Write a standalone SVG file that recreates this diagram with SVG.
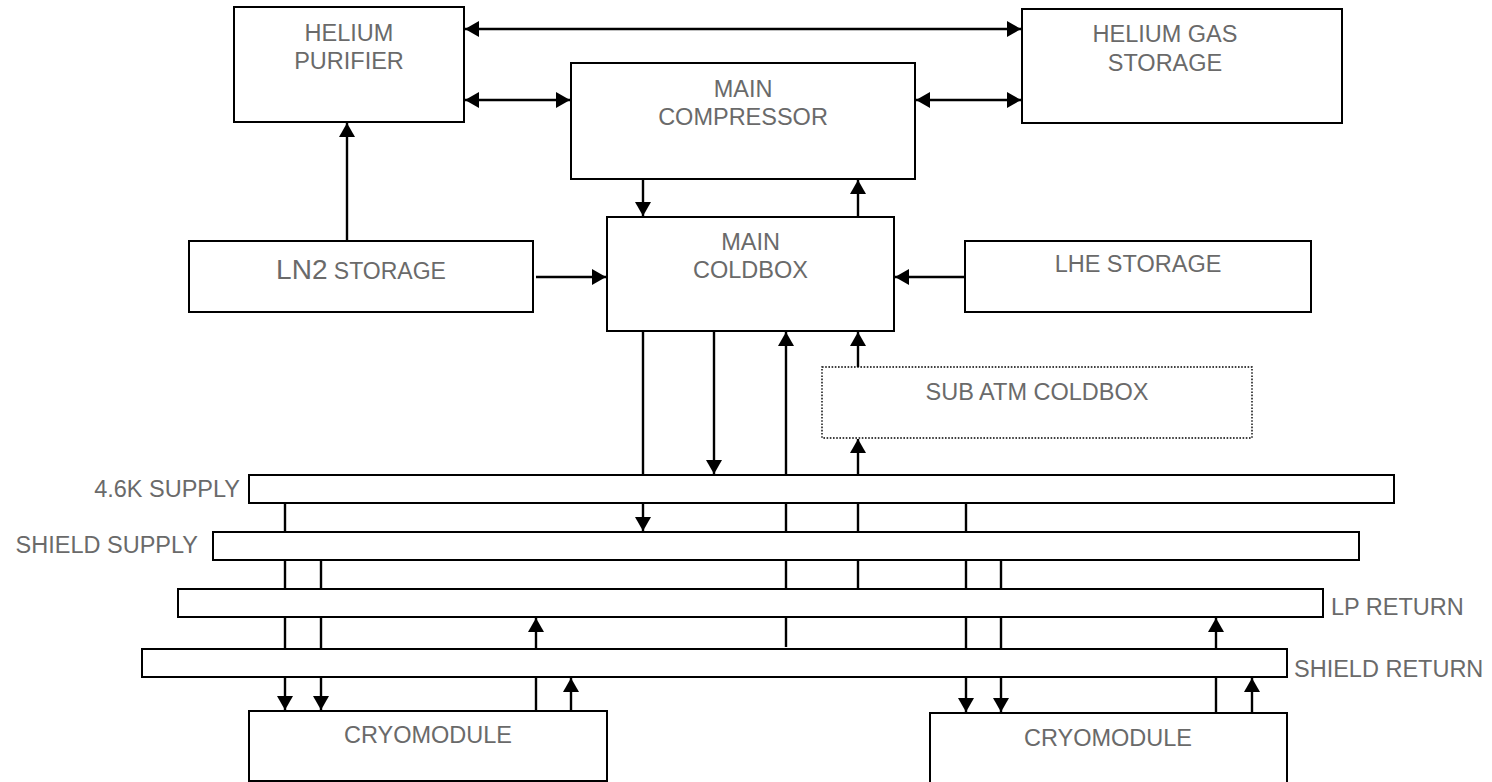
<svg xmlns="http://www.w3.org/2000/svg" width="1492" height="782" viewBox="0 0 1492 782">
<style>
.box{fill:#fff;stroke:#000;stroke-width:2}
.dot{fill:#fff;stroke:#000;stroke-width:1.4;stroke-dasharray:1.6 1.6}
.t{font-family:"Liberation Sans",Arial,sans-serif;font-size:23.5px;fill:#6a6a6a}
.c{text-anchor:middle}
.r{text-anchor:end}
.ln{fill:none;stroke:#000;stroke-width:2.4}
.a{marker-end:url(#ah)}
.aa{marker-end:url(#ah);marker-start:url(#ah)}
</style>
<defs>
<marker id="ah" viewBox="0 0 14 16" refX="14" refY="8" markerWidth="14" markerHeight="16" markerUnits="userSpaceOnUse" orient="auto-start-reverse">
<path d="M0,0 L14,8 L0,16 z" fill="#000"/>
</marker>
</defs>
<rect width="1492" height="782" fill="#fff"/>
<g id="connectors">
<line class="ln aa" x1="465" y1="29" x2="1021" y2="29"/>
<line class="ln aa" x1="465" y1="100" x2="570" y2="100"/>
<line class="ln aa" x1="916" y1="100" x2="1021" y2="100"/>
<line class="ln a" x1="347" y1="241" x2="347" y2="123"/>
<line class="ln a" x1="643" y1="179" x2="643" y2="216"/>
<line class="ln a" x1="858" y1="217" x2="858" y2="180"/>
<line class="ln a" x1="536" y1="277" x2="606" y2="277"/>
<line class="ln a" x1="965" y1="277" x2="895" y2="277"/>
<line class="ln a" x1="643" y1="331" x2="643" y2="531"/>
<line class="ln a" x1="714" y1="331" x2="714" y2="474"/>
<line class="ln a" x1="786" y1="647" x2="786" y2="332"/>
<line class="ln a" x1="858" y1="367" x2="858" y2="332"/>
<line class="ln a" x1="858" y1="589" x2="858" y2="439"/>
<line class="ln a" x1="285" y1="503" x2="285" y2="710"/>
<line class="ln a" x1="321" y1="560" x2="321" y2="710"/>
<line class="ln a" x1="536" y1="711" x2="536" y2="618"/>
<line class="ln a" x1="571" y1="711" x2="571" y2="678"/>
<line class="ln a" x1="966" y1="503" x2="966" y2="712"/>
<line class="ln a" x1="1001" y1="560" x2="1001" y2="712"/>
<line class="ln a" x1="1216" y1="713" x2="1216" y2="618"/>
<line class="ln a" x1="1252" y1="713" x2="1252" y2="678"/>
</g>
<g id="helium-purifier">
<rect class="box" x="234" y="7" width="230" height="115"/>
<text class="t c" x="349" y="41">HELIUM</text>
<text class="t c" x="349" y="69">PURIFIER</text>
</g>
<g id="helium-gas-storage">
<rect class="box" x="1022" y="9" width="320" height="114"/>
<text class="t c" x="1165" y="42">HELIUM GAS</text>
<text class="t c" x="1165" y="71">STORAGE</text>
</g>
<g id="main-compressor">
<rect class="box" x="571" y="63" width="344" height="116"/>
<text class="t c" x="743" y="97">MAIN</text>
<text class="t c" x="743" y="125">COMPRESSOR</text>
</g>
<g id="main-coldbox">
<rect class="box" x="607" y="217" width="287" height="114"/>
<text class="t c" x="750.5" y="250">MAIN</text>
<text class="t c" x="750.5" y="278">COLDBOX</text>
</g>
<g id="ln2-storage">
<rect class="box" x="189" y="241" width="344" height="71"/>
<text class="t c" x="361" y="279" style="font-size:23px"><tspan style="font-size:28px">LN2</tspan> STORAGE</text>
</g>
<g id="lhe-storage">
<rect class="box" x="965" y="241" width="346" height="71"/>
<text class="t c" x="1138" y="272">LHE STORAGE</text>
</g>
<g id="sub-atm-coldbox">
<rect class="dot" x="822" y="367" width="430" height="71"/>
<text class="t c" x="1037" y="400">SUB ATM COLDBOX</text>
</g>
<g id="supply-4-6k">
<rect class="box" x="249" y="475" width="1145" height="28"/>
<text class="t r" x="240" y="497">4.6K SUPPLY</text>
</g>
<g id="shield-supply">
<rect class="box" x="213" y="532" width="1146" height="28"/>
<text class="t r" x="198" y="553">SHIELD SUPPLY</text>
</g>
<g id="lp-return">
<rect class="box" x="178" y="589" width="1145" height="28"/>
<text class="t" x="1331" y="615">LP RETURN</text>
</g>
<g id="shield-return">
<rect class="box" x="142" y="649" width="1145" height="28"/>
<text class="t" x="1294" y="677">SHIELD RETURN</text>
</g>
<g id="cryomodule-1">
<rect class="box" x="249" y="711" width="358" height="70"/>
<text class="t c" x="428" y="743">CRYOMODULE</text>
</g>
<g id="cryomodule-2">
<rect class="box" x="930" y="713" width="357" height="70"/>
<text class="t c" x="1108" y="746">CRYOMODULE</text>
</g>
</svg>
